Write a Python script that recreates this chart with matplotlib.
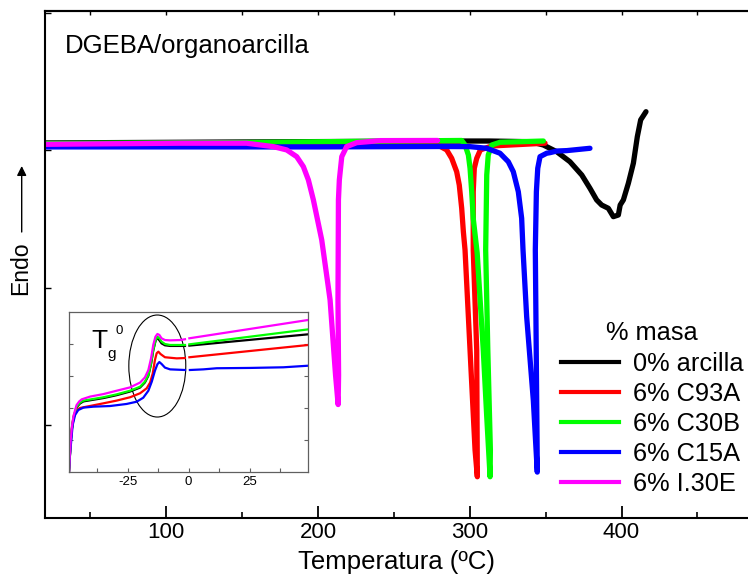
import numpy as np
import matplotlib
matplotlib.use("Agg")
import matplotlib.pyplot as plt
from matplotlib.patches import Ellipse
from matplotlib.lines import Line2D

plt.rcParams["font.family"] = ["Liberation Sans", "DejaVu Sans"]
plt.rcParams["axes.unicode_minus"] = False

# ---------------- main DSC scans (temperature in degC, heat flow in a.u.) ----------------
t_black = [20, 150, 280, 313, 340, 348.5, 357.3, 366.0, 373.8, 379.2, 383.6, 386.9, 391.3,
           394.6, 397.9, 399.1, 401.2, 404.5, 407.8, 410.4, 412.6, 416.1]
hf_black = [0.055, 0.062, 0.069, 0.069, 0.064, 0.040, -0.009, -0.082, -0.179, -0.276, -0.361,
            -0.398, -0.422, -0.483, -0.471, -0.398, -0.361, -0.239, -0.093, 0.101, 0.223, 0.283]

t_c93a = [20, 280, 284.8, 288.1, 291.4, 293.1, 294.7, 295.8, 296.9, 300.2, 303.5, 305.0,
          304.6, 302.3, 302.3, 303.0, 304.6, 307.0, 314.5, 349.6]
hf_c93a = [0.033, 0.033, 0.004, -0.057, -0.155, -0.252, -0.422, -0.593, -0.726, -1.456,
           -2.186, -2.381, -1.456, -0.726, -0.301, -0.130, -0.057, 0.004, 0.033, 0.053]

t_c30b = [20, 150, 250, 294.7, 296.9, 299.1, 300.2, 301.3, 302.3, 304.9, 308.9, 311.2, 313.4,
          313.6, 311.9, 310.5, 311.2, 312.2, 314.5, 320.0, 333.1, 348.5]
hf_c30b = [0.051, 0.058, 0.069, 0.073, 0.040, -0.033, -0.130, -0.301, -0.495, -0.748, -1.453,
           -1.943, -2.381, -2.186, -1.453, -0.726, -0.179, -0.033, 0.040, 0.060, 0.064, 0.069]

t_c15a = [20, 200, 280, 300.2, 311.2, 319.9, 325.4, 328.7, 332.0, 334.2, 335.1, 337.5, 341.9,
          344.5, 344.4, 343.8, 343.2, 343.9, 344.8, 346.3, 350.7, 352.9, 357.3, 363.9, 379.2]
hf_c15a = [0.026, 0.026, 0.029, 0.028, 0.016, -0.020, -0.082, -0.155, -0.301, -0.495, -0.726,
           -1.213, -1.825, -2.347, -2.186, -1.453, -0.726, -0.301, -0.130, -0.045, -0.020,
           -0.016, -0.004, -0.001, 0.016]

t_i30e = [20, 109, 153, 170.6, 179.4, 186.0, 190.4, 193.7, 197.0, 202.5, 206.8, 208.0, 211.6,
          213.3, 213.6, 213.2, 213.5, 214.1, 215.7, 218.9, 225.5, 240.9, 278.8]
hf_i30e = [0.045, 0.053, 0.053, 0.028, 0.004, -0.045, -0.118, -0.215, -0.361, -0.653, -0.994,
           -1.091, -1.639, -1.854, -1.639, -1.091, -0.361, -0.215, -0.045, 0.028, 0.057, 0.072,
           0.073]

# ---------------- inset: glass transition region ----------------
ti_black = [-49.0, -48.7, -48.3, -47.8, -47.2, -46.5, -45.9, -44.5, -43.1, -34.9, -29.5, -24.0,
            -19.9, -17.9, -16.5, -15.4, -14.5, -13.6, -13.0, -12.0, -11.1, -9.7, -7.6, -1.5,
            np.nan, 0.3, 49.0]
yi_black = [0.0, 0.80, 1.84, 2.68, 3.30, 3.72, 4.03, 4.28, 4.41, 4.62, 4.80, 5.03, 5.28, 5.60,
            6.02, 6.75, 7.60, 8.18, 8.40, 8.25, 8.05, 7.93, 7.89, 7.89, np.nan, 7.91, 8.62]

ti_c93a = [-49.0, -48.6, -48.2, -47.6, -47.0, -45.9, -44.5, -41.8, -34.9, -29.5, -24.0, -19.9,
           -17.2, -15.8, -14.7, -13.8, -13.1, -12.4, -11.5, -9.7, -4.9, -1.5, np.nan, 0.3, 49.0]
yi_c93a = [0.0, 1.15, 2.20, 3.03, 3.56, 3.87, 4.00, 4.08, 4.29, 4.46, 4.67, 4.92, 5.23, 5.59,
           6.17, 7.01, 7.43, 7.53, 7.38, 7.18, 7.11, 7.13, np.nan, 7.18, 7.95]

ti_c30b = [-49.0, -48.7, -48.3, -47.8, -47.2, -46.5, -45.9, -44.5, -43.1, -34.9, -29.5, -24.0,
           -19.9, -17.9, -16.5, -15.4, -14.5, -13.6, -12.8, -12.0, -11.1, -9.7, -7.6, -1.5,
           np.nan, 0.3, 49.0]
yi_c30b = [0.0, 0.84, 1.88, 2.72, 3.35, 3.77, 4.08, 4.33, 4.46, 4.67, 4.85, 5.08, 5.33, 5.65,
           6.07, 6.80, 7.64, 8.22, 8.47, 8.37, 8.16, 8.01, 7.95, 7.95, np.nan, 7.99, 8.93]

ti_c15a = [-49.0, -48.6, -48.0, -47.5, -46.5, -45.2, -43.1, -39.0, -32.2, -25.4, -21.3, -18.6,
           -16.5, -15.1, -13.8, -12.8, -12.0, -11.1, -9.7, -7.6, -1.5, np.nan, 0.5, 6.0, 11.5,
           25.1, 38.8, 49.0]
yi_c15a = [0.0, 1.05, 2.09, 2.93, 3.56, 3.87, 4.02, 4.08, 4.12, 4.25, 4.39, 4.64, 5.08, 5.65,
           6.34, 6.74, 6.88, 6.76, 6.53, 6.42, 6.38, np.nan, 6.38, 6.42, 6.49, 6.51, 6.55, 6.65]

ti_i30e = [-49.0, -48.7, -48.3, -47.8, -47.2, -46.5, -45.9, -44.8, -43.8, -40.4, -34.9, -29.5,
           -24.0, -19.9, -17.9, -16.5, -15.4, -14.5, -13.6, -12.8, -12.0, -11.1, -9.7, -7.6,
           -3.5, -1.5, np.nan, 0.3, 49.0]
yi_i30e = [0.0, 0.94, 1.99, 2.82, 3.45, 3.87, 4.18, 4.41, 4.54, 4.71, 4.87, 5.08, 5.29, 5.59,
           5.92, 6.38, 7.11, 7.95, 8.47, 8.64, 8.58, 8.37, 8.26, 8.24, 8.26, 8.31, np.nan, 8.37,
           9.52]

labels = ["0% arcilla", "6% C93A", "6% C30B", "6% C15A", "6% I.30E"]
colors = ["#000000", "#ff0000", "#00ff00", "#0000ff", "#ff00ff"]

main_series = [(t_black, hf_black), (t_c93a, hf_c93a), (t_c30b, hf_c30b),
               (t_c15a, hf_c15a), (t_i30e, hf_i30e)]
inset_series = [(ti_black, yi_black), (ti_c93a, yi_c93a), (ti_c30b, yi_c30b),
                (ti_c15a, yi_c15a), (ti_i30e, yi_i30e)]

x_ticks = [100, 200, 300, 400]
inset_ticks = [-25, 0, 25]

W, H = 748, 577


def fpos(x, y):
    """figure-pixel (from top-left) to figure fraction"""
    return x / W, 1 - y / H


fig = plt.figure(figsize=(W / 100, H / 100), dpi=100)

# ---------------- main axes ----------------
L, R, T, B = 44.7, 748, 10.7, 518
ax = fig.add_axes([L / W, 1 - B / H, (R - L) / W, (B - T) / H])
ax.set_xlim(20, 20 + (R - L) / 1.518)
ax.set_ylim(-2.682, 1.02)

for (t, q), c in zip(main_series, colors):
    ax.plot(t, q, color=c, lw=3.8, solid_capstyle="round", solid_joinstyle="round")

ax.spines["right"].set_visible(False)
for s in ("left", "bottom", "top"):
    ax.spines[s].set_linewidth(1.5)

ax.set_xticks(x_ticks)
ax.set_xticks([50, 150, 250, 350, 450], minor=True)
ax.tick_params(axis="x", which="major", direction="in", length=9, width=1.3,
               labelsize=16, pad=3)
ax.tick_params(axis="x", which="minor", direction="in", length=4.5, width=1.2)
ax.set_yticks([-2, -1, 0, 1])
ax.set_yticklabels([])
ax.tick_params(axis="y", which="major", direction="in", length=4, width=1)

top = ax.secondary_xaxis("top")
top.set_xticks(np.arange(50, 500, 50))
top.tick_params(direction="in", length=3, width=1, labeltop=False)
top.spines["top"].set_linewidth(1.5)

ax.set_xlabel("Temperatura (ºC)", fontsize=18.5, labelpad=5)

fig.text(*fpos(65, 53.3), "DGEBA/organoarcilla", fontsize=18.5, ha="left", va="baseline")
fig.text(*fpos(20.7, 268), "Endo", fontsize=16.6, rotation=90, ha="center", va="center")
ax.annotate("", xy=fpos(21.7, 166), xytext=fpos(21.7, 232),
            xycoords="figure fraction", textcoords="figure fraction",
            arrowprops=dict(arrowstyle="-|>", lw=1.0, color="black", mutation_scale=14,
                            shrinkA=0, shrinkB=0))

handles = [Line2D([], [], color=c, lw=3) for c in colors]
ax.legend(handles, labels, title="% masa", loc="upper left",
          bbox_to_anchor=fpos(560.7, 321.5), bbox_transform=fig.transFigure,
          frameon=False, fontsize=18.3, title_fontsize=18.3, borderpad=0,
          borderaxespad=0, handlelength=2.28, handletextpad=0.56, labelspacing=0.24)

# ---------------- inset ----------------
iL, iR, iT, iB = 69, 308.3, 312.3, 471.7
axi = fig.add_axes([iL / W, 1 - iB / H, (iR - iL) / W, (iB - iT) / H])
axi.set_xlim(-49, 49)
axi.set_ylim(0, 10)
for (t, q), c in zip(inset_series, colors):
    axi.plot(t, q, color=c, lw=1.6)

for s in axi.spines.values():
    s.set_color("#606060")
    s.set_linewidth(0.9)
axi.set_xticks(inset_ticks)
axi.set_xticks([-37.5, -12.5, 12.5, 37.5], minor=True)
axi.set_yticks([2, 4, 6, 8])
axi.set_yticklabels([])
axi.tick_params(axis="x", which="both", direction="in", length=3, width=0.8,
                labelsize=9.5, pad=3, color="#606060")
axi.tick_params(axis="y", which="both", direction="in", length=3, width=0.8,
                left=True, right=True, color="#606060")

axi.add_patch(Ellipse((0.369, 0.663), 0.238, 0.64, transform=axi.transAxes,
                      fill=False, ec="black", lw=0.8, clip_on=False))

fig.text(*fpos(91.5, 348), "T", fontsize=19, ha="left", va="baseline")
fig.text(*fpos(107, 358), "g", fontsize=11, ha="left", va="baseline")
fig.text(*fpos(115, 333.5), "0", fontsize=9.5, ha="left", va="baseline")

fig.savefig("out.png", dpi=100)
